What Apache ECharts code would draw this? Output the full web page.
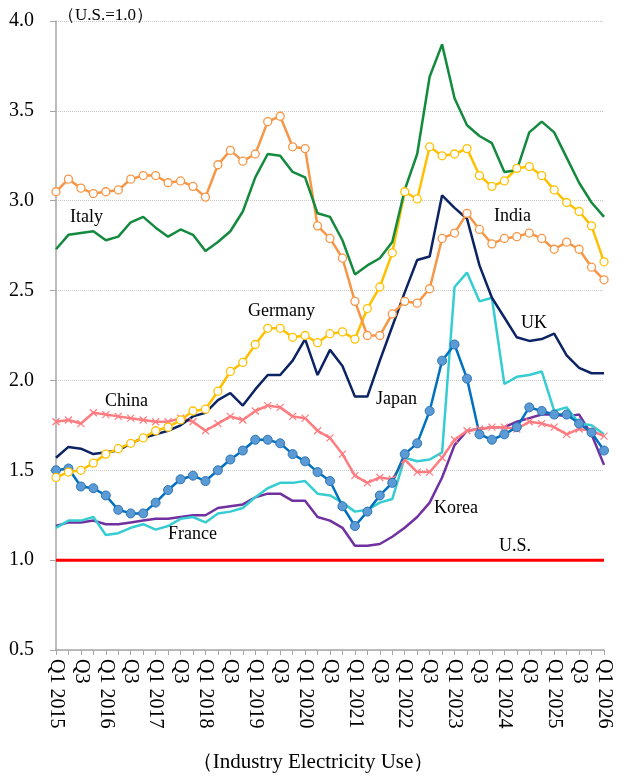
<!DOCTYPE html>
<html>
<head>
<meta charset="utf-8">
<script src="https://cdn.jsdelivr.net/npm/echarts@6/dist/echarts.min.js"></script>
<style>
	html, body { margin: 0; padding: 0; background: #fff; }
	#main { width: 626px; height: 779px; }
</style>
</head>
<body>
<div id="main"></div>
<script>
// quarters Q1 2015 .. Q1 2026
var quarters = [];
for (var y = 2015; y <= 2026; y++) {
	for (var q = 1; q <= 4; q++) {
		if (y == 2026 && q > 1) break;
		quarters.push('Q' + q + ' ' + y);
	}
}

var italy = [2.73, 2.81, 2.82, 2.83, 2.78, 2.80, 2.88, 2.91, 2.85, 2.80, 2.84, 2.81, 2.72, 2.77, 2.83, 2.94, 3.13, 3.26, 3.25, 3.16, 3.13, 2.93,
	2.91, 2.78, 2.59, 2.64, 2.68, 2.77, 3.06, 3.26, 3.69, 3.87, 3.57, 3.42, 3.36, 3.32, 3.16, 3.17, 3.38, 3.44, 3.38, 3.24, 3.10, 2.99, 2.91];
var india = [3.05, 3.12, 3.07, 3.04, 3.05, 3.06, 3.12, 3.14, 3.14, 3.10, 3.11, 3.08, 3.02, 3.20, 3.28, 3.22, 3.26, 3.44, 3.47, 3.30, 3.29, 2.86,
	2.79, 2.68, 2.44, 2.25, 2.25, 2.37, 2.44, 2.43, 2.51, 2.79, 2.82, 2.93, 2.84, 2.76, 2.79, 2.80, 2.82, 2.79, 2.73, 2.77, 2.73, 2.63, 2.56];
var germany = [1.46, 1.49, 1.50, 1.54, 1.59, 1.62, 1.65, 1.68, 1.72, 1.74, 1.78, 1.83, 1.84, 1.94, 2.05, 2.10, 2.20, 2.29, 2.29, 2.24, 2.25, 2.21,
	2.26, 2.27, 2.23, 2.40, 2.52, 2.71, 3.05, 3.01, 3.30, 3.25, 3.26, 3.29, 3.14, 3.08, 3.11, 3.18, 3.19, 3.14, 3.06, 2.99, 2.94, 2.86, 2.66];
var uk = [1.57, 1.63, 1.62, 1.59, 1.60, 1.61, 1.65, 1.68, 1.70, 1.72, 1.75, 1.80, 1.82, 1.89, 1.93, 1.86, 1.95, 2.03, 2.03, 2.11, 2.23, 2.03,
	2.17, 2.08, 1.91, 1.91, 2.11, 2.30, 2.49, 2.67, 2.69, 3.03, 2.96, 2.90, 2.64, 2.46, 2.35, 2.24, 2.22, 2.23, 2.26, 2.14, 2.07, 2.04, 2.04];
var china = [1.77, 1.78, 1.76, 1.82, 1.81, 1.80, 1.79, 1.78, 1.77, 1.77, 1.79, 1.77, 1.72, 1.76, 1.80, 1.78, 1.83, 1.86, 1.85, 1.80, 1.79, 1.72,
	1.68, 1.59, 1.47, 1.43, 1.46, 1.45, 1.56, 1.49, 1.49, 1.57, 1.67, 1.72, 1.73, 1.74, 1.74, 1.73, 1.77, 1.76, 1.74, 1.70, 1.73, 1.72, 1.69];
var japan = [1.50, 1.51, 1.41, 1.40, 1.36, 1.28, 1.26, 1.26, 1.32, 1.39, 1.45, 1.47, 1.44, 1.50, 1.56, 1.61, 1.67, 1.67, 1.65, 1.59, 1.55, 1.49,
	1.44, 1.30, 1.19, 1.27, 1.36, 1.43, 1.59, 1.65, 1.83, 2.11, 2.20, 2.01, 1.70, 1.67, 1.70, 1.74, 1.85, 1.83, 1.81, 1.81, 1.76, 1.71, 1.61];
var france = [1.18, 1.22, 1.22, 1.24, 1.14, 1.15, 1.18, 1.20, 1.17, 1.19, 1.23, 1.24, 1.21, 1.26, 1.27, 1.29, 1.35, 1.40, 1.43, 1.43, 1.44, 1.37,
	1.36, 1.32, 1.27, 1.28, 1.32, 1.34, 1.57, 1.55, 1.56, 1.60, 2.52, 2.60, 2.44, 2.46, 1.98, 2.02, 2.03, 2.05, 1.83, 1.85, 1.76, 1.75, 1.70];
var korea = [1.19, 1.21, 1.21, 1.22, 1.20, 1.20, 1.21, 1.22, 1.23, 1.23, 1.24, 1.25, 1.25, 1.29, 1.30, 1.31, 1.35, 1.37, 1.37, 1.33, 1.33, 1.24,
	1.22, 1.18, 1.08, 1.08, 1.09, 1.13, 1.18, 1.24, 1.32, 1.46, 1.64, 1.72, 1.73, 1.74, 1.74, 1.77, 1.79, 1.81, 1.81, 1.80, 1.81, 1.70, 1.53];
var us = quarters.map(function() { return 1.0; });

var serif = '"Liberation Serif", "Times New Roman", serif';

// 系列线的通用样式
function lineSeries(name, data, color, extra) {
	var s = {
		name : name,
		type : 'line',
		data : data,
		symbol : 'none',
		showAllSymbol : true,
		lineStyle : { color : color, width : 2.5 },
		itemStyle : { color : color },
		animation : false
	};
	for (var k in extra) s[k] = extra[k];
	return s;
}

function label(text, x, y) {
	return {
		type : 'text', left : x, top : y,
		style : { text : text, font : '18px ' + serif, fill : '#000' }
	};
}

var myChart = echarts.init(document.getElementById('main'));

var option = {
	backgroundColor : '#fff',
	grid : { left : 56, right : 22, top : 21, bottom : 129 },
	xAxis : {
		type : 'category',
		data : quarters,
		boundaryGap : false,
		axisLine : { lineStyle : { color : '#a6a6a6', width : 1.5 } },
		axisTick : { interval : 0, length : 5, lineStyle : { color : '#a6a6a6' } },
		axisLabel : {
			interval : 1,
			rotate : -90,
			margin : 9,
			fontFamily : serif,
			fontSize : 20,
			color : '#000',
			formatter : function(v) {
				return v.indexOf('Q1') == 0 ? v : v.split(' ')[0];
			}
		}
	},
	yAxis : {
		type : 'value',
		min : 0.5,
		max : 4.0,
		interval : 0.5,
		axisLine : { show : true, lineStyle : { color : '#a6a6a6', width : 1.5 } },
		axisTick : { show : true, length : 6, lineStyle : { color : '#a6a6a6' } },
		axisLabel : {
			margin : 22,
			fontFamily : serif,
			fontSize : 20,
			color : '#000',
			formatter : function(v) { return v.toFixed(1); }
		},
		splitLine : { lineStyle : { color : '#c8c8c8', type : 'dotted', width : 1 } }
	},
	series : [
		lineSeries('U.S.', us, '#ff0000', { lineStyle : { color : '#ff0000', width : 3 } }),
		lineSeries('Korea', korea, '#7030a0'),
		lineSeries('France', france, '#36cdd2'),
		lineSeries('China', china, '#ff7c80', {
			symbol : 'path://M0,0L10,10M10,0L0,10',
			symbolSize : 7,
			itemStyle : { color : '#ff7c80', borderColor : '#ff7c80', borderWidth : 1.2 }
		}),
		lineSeries('Japan', japan, '#0070c0', {
			symbol : 'circle',
			symbolSize : 9,
			itemStyle : { color : '#5b9bd5', borderColor : '#2e75b6', borderWidth : 1 }
		}),
		lineSeries('UK', uk, '#0c2464'),
		lineSeries('Germany', germany, '#ffc000', {
			symbol : 'circle',
			symbolSize : 8,
			itemStyle : { color : '#fff', borderColor : '#ffc000', borderWidth : 1.3 }
		}),
		lineSeries('India', india, '#f79646', {
			symbol : 'circle',
			symbolSize : 8,
			itemStyle : { color : '#fff', borderColor : '#f79646', borderWidth : 1.3 }
		}),
		lineSeries('Italy', italy, '#138a3e')
	],
	graphic : [
		{
			type : 'text', left : 58, top : 7,
			style : { text : '（U.S.=1.0）', font : '17px ' + serif, fill : '#000' }
		},
		{
			type : 'text', left : 'center', top : 752,
			style : { text : '（Industry Electricity Use）', font : '21px ' + serif, fill : '#000' }
		},
		label('Italy', 70, 208),
		label('China', 105, 392),
		label('Germany', 248, 302),
		label('Japan', 376, 390),
		label('France', 168, 525),
		label('Korea', 434, 499),
		label('U.S.', 499, 537),
		label('India', 494, 207),
		label('UK', 521, 314)
	]
};

myChart.setOption(option);
</script>
</body>
</html>
